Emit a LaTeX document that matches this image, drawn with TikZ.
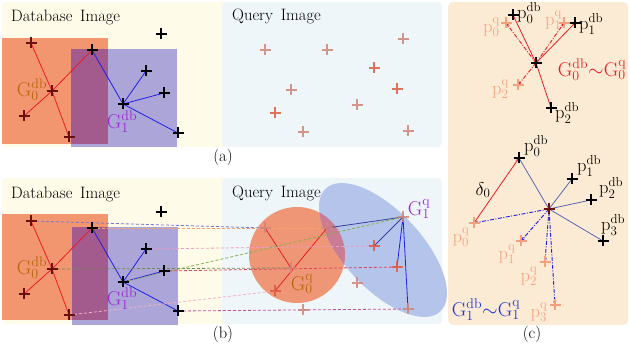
\documentclass[tikz,border=0pt]{standalone}
\usepackage{fix-cm}
\usepackage{fontspec}
\usetikzlibrary{arrows.meta}
\definecolor{dbbg}{HTML}{FEFBE8}
\definecolor{qbg}{HTML}{EEF6FA}
\definecolor{cbg}{HTML}{FCEBD4}
\definecolor{orng}{HTML}{F2966F}
\definecolor{purp}{HTML}{ACA6D8}
\definecolor{ovl}{HTML}{A35A8D}
\definecolor{circ}{HTML}{EE9676}
\definecolor{ell}{HTML}{B5C4EA}
\definecolor{ellovl}{HTML}{C97C93}
\definecolor{crossdr}{HTML}{6B1010}
\definecolor{qcolA}{HTML}{CF8577}
\definecolor{qcolB}{HTML}{DE5A3E}
\definecolor{salmon}{HTML}{F4A07F}
\definecolor{edgered}{HTML}{EC1C24}
\definecolor{edgeblue}{HTML}{1F1FE8}
\definecolor{navy}{HTML}{3A3F9A}
\definecolor{slate}{HTML}{5A66B0}
\definecolor{brownlab}{HTML}{B8650F}
\definecolor{purplab}{HTML}{9C27CF}
\definecolor{bluelab}{HTML}{1C35E0}
\definecolor{mblue}{HTML}{7B74D6}
\definecolor{morange}{HTML}{F3A56A}
\definecolor{mpink}{HTML}{EC9BC2}
\definecolor{mgreen}{HTML}{86B04A}
\definecolor{molive}{HTML}{6E8C52}
\definecolor{mcrim}{HTML}{E04660}
\definecolor{mlpink}{HTML}{F3AFCB}
\definecolor{mmag}{HTML}{C0509A}
\newcommand\plusat[2]{\draw[#1] (#2) +(-5.5,0) -- +(5.5,0) (#2) +(0,-5.5) -- +(0,5.5);}
\begin{document}
\begin{tikzpicture}[x=1pt,y=-1pt,
  lab/.style={font=\fontsize{16.5}{18}\selectfont, inner sep=0pt},
  plab/.style={font=\fontsize{18.5}{20}\selectfont, inner sep=0pt},
  glab/.style={font=\fontsize{20}{22}\selectfont, inner sep=0pt},
  dbp/.style={line width=2pt, black},
  drp/.style={line width=2pt, crossdr},
  qpa/.style={line width=1.5pt, qcolA, opacity=.85},
  qpb/.style={line width=1.5pt, qcolB, opacity=.85},
  cqp/.style={line width=1.6pt, salmon},
  redE/.style={draw=edgered, line width=.8pt},
  blueE/.style={draw=edgeblue, line width=.8pt},
  navyE/.style={draw=navy, line width=.8pt},
  slateE/.style={draw=slate, line width=.8pt},
  matchline/.style={dash pattern=on 3pt off 2pt, line width=.8pt},
  ddot/.style={dash pattern=on 4pt off 1.5pt on 1pt off 1.5pt, line width=.9pt},
  arrq/.style={-{Stealth[length=4pt,width=3pt]}}
]
\useasboundingbox (0,0) rectangle (630,344);

% ---------- backgrounds ----------
\fill[dbbg, rounded corners=4pt] (2,2) rectangle (228,147);
\fill[qbg, rounded corners=4pt] (222,2) rectangle (442,147);
\fill[dbbg, rounded corners=4pt] (2,178) rectangle (228,324);
\fill[qbg, rounded corners=4pt] (222,178) rectangle (442,324);
\fill[cbg, rounded corners=5pt] (448,2) rectangle (628,325);

% ---------- coordinates ----------
\foreach \n/\x/\y in {0/31/43,1/52/91,2/24/116,3/69/137,4/92/50,5/123/104,6/146/71,7/164/93,8/178/133,9/161/34}{
  \coordinate (a\n) at (\x,\y);
  \coordinate (b\n) at (\x,{\y+178});
}
\foreach \n/\x/\y in {0/265/50,1/327/50,2/403/39,3/374/68,4/291/90,5/397/89,6/357/105,7/275/113,8/303/132,9/408/131}{
  \coordinate (q\n) at (\x,\y);
  \coordinate (r\n) at (\x,{\y+178});
}

% ---------- panel (a) ----------
\fill[orng] (2,38) rectangle (108,144);
\fill[purp] (71,49) rectangle (177,147);
\fill[ovl] (71,49) rectangle (108,144);
\draw[redE] (a0) -- (a1) -- (a3);
\draw[redE] (a2) -- (a1) -- (a4);
\draw[blueE] (a4) -- (a5);
\draw[blueE] (a5) -- (a6) (a5) -- (a7) (a5) -- (a8);
\foreach \n in {0,1,2,3}{\plusat{drp}{a\n}}
\foreach \n in {4,5,6,7,8,9}{\plusat{dbp}{a\n}}
\foreach \n in {0,1,2,4,6,8,9}{\plusat{qpa}{q\n}}
\foreach \n in {3,5,7}{\plusat{qpb}{q\n}}
\node[lab, anchor=base west] (tdba) at (11,22) {Database\, Image};
\node[lab, anchor=base west] (tqa) at (232,21) {Query\, Image};
\node[glab, text=brownlab] (g0a) at (32,90) {$\mathrm{G}_0^{\mathrm{db}}$};
\node[glab, text=purplab] (g1a) at (122,122) {$\mathrm{G}_1^{\mathrm{db}}$};
\node[lab] (capa) at (223,157) {(a)};

% ---------- panel (b) ----------
\fill[orng] (2,214) rectangle (108,320);
\fill[purp] (72,227) rectangle (178,325);
\fill[ovl] (72,227) rectangle (108,320);
\fill[circ] (297,255) circle [radius=48pt];
\fill[ell, rotate around={-47:(383,250)}] (383,250) ellipse [x radius=84pt, y radius=39pt];
\begin{scope}
  \clip[rotate around={-47:(383,250)}] (383,250) ellipse [x radius=84pt, y radius=39pt];
  \fill[ellovl] (297,255) circle [radius=48pt];
\end{scope}
\draw[redE] (b0) -- (b1) -- (b3);
\draw[redE] (b2) -- (b1) -- (b4);
\draw[blueE] (b4) -- (b5);
\draw[blueE] (b5) -- (b6) (b5) -- (b7) (b5) -- (b8);
\draw[redE] (r0) -- (r4);
\draw[redE] (r1) -- (r7);
\draw[navyE] (r2) -- (r1) (r2) -- (r3);
\draw[blueE] (r2) -- (r5) (r2) -- (r9);
% matches
\draw[matchline, mblue] (b0) -- (r0);
\draw[matchline, morange] (b4) -- (r1);
\draw[matchline, mpink] (b6) -- (r3);
\draw[matchline, molive] (b1) -- (r4);
\draw[matchline, mcrim] (b7) -- (r5);
\draw[matchline, mgreen] (b5) -- (r2);
\draw[matchline, mlpink] (b3) -- (r7);
\draw[matchline, mmag] (b8) -- (r9);
\foreach \n in {0,1,2,3}{\plusat{drp}{b\n}}
\foreach \n in {4,5,6,7,8,9}{\plusat{dbp}{b\n}}
\foreach \n in {0,1,2,4,6,8,9}{\plusat{qpa}{r\n}}
\foreach \n in {3,5,7}{\plusat{qpb}{r\n}}
\node[lab, anchor=base west] (tdbb) at (11,199) {Database\, Image};
\node[lab, anchor=base west] (tqb) at (232,198) {Query\, Image};
\node[glab, text=brownlab] (g0b) at (32,268) {$\mathrm{G}_0^{\mathrm{db}}$};
\node[glab, text=purplab] (g1b) at (122,299) {$\mathrm{G}_1^{\mathrm{db}}$};
\node[glab, text=brownlab] (g0q) at (302,284) {$\mathrm{G}_0^{\mathrm{q}}$};
\node[glab, text=purplab] (g1q) at (419,209) {$\mathrm{G}_1^{\mathrm{q}}$};
\node[lab] (capb) at (223,334) {(b)};

% ---------- panel (c), top ----------
\coordinate (c0) at (536,63);
\coordinate (c0d) at (513,15);
\coordinate (c1d) at (575,23);
\coordinate (c2d) at (551,108);
\coordinate (c0q) at (506,23);
\coordinate (c1q) at (564,23);
\coordinate (c2q) at (518,85);
\draw[redE] (c0) -- (c0d) (c0) -- (c1d) (c0) -- (c2d);
\draw[redE, ddot, arrq] (c0) -- (c0q);
\draw[redE, ddot, arrq] (c0) -- (c1q);
\draw[redE, ddot, arrq] (c0) -- (c2q);
\foreach \p in {c0q,c1q,c2q}{\plusat{cqp}{\p}}
\foreach \p in {c0,c0d,c1d,c2d}{\plusat{dbp}{\p}}
\node[plab, anchor=west] (l0d) at (517,13) {$\mathrm{p}_0^{\mathrm{db}}$};
\node[plab, anchor=west] (l1d) at (579,24) {$\mathrm{p}_1^{\mathrm{db}}$};
\node[plab, anchor=west] (l2d) at (555,113) {$\mathrm{p}_2^{\mathrm{db}}$};
\node[plab, text=salmon, anchor=east] (l0q) at (500,27) {$\mathrm{p}_0^{\mathrm{q}}$};
\node[plab, text=salmon, anchor=east] (l1q) at (562,20) {$\mathrm{p}_1^{\mathrm{q}}$};
\node[plab, text=salmon, anchor=east] (l2q) at (509,89) {$\mathrm{p}_2^{\mathrm{q}}$};
\node[glab, text=edgered] (m0) at (592,70) {$\mathrm{G}_0^{\mathrm{db}}{\sim}\mathrm{G}_0^{\mathrm{q}}$};

% ---------- panel (c), bottom ----------
\coordinate (e0) at (549,209);
\coordinate (e0d) at (519,158);
\coordinate (e1d) at (572,179);
\coordinate (e2d) at (591,200);
\coordinate (e3d) at (603,241);
\coordinate (e0q) at (474,223);
\coordinate (e1q) at (521,241);
\coordinate (e2q) at (545,262);
\coordinate (e3q) at (555,305);
\draw[slateE] (e0) -- (e0d) (e0) -- (e1d) (e0) -- (e2d) (e0) -- (e3d);
\draw[blueE, ddot, arrq] (e0) -- (e0q);
\draw[blueE, ddot, arrq] (e0) -- (e1q);
\draw[blueE, ddot, arrq] (e0) -- (e2q);
\draw[blueE, ddot, arrq] (e0) -- (e3q);
\draw[redE, arrq] (e0q) -- (e0d);
\foreach \p in {e0q,e1q,e2q,e3q}{\plusat{cqp}{\p}}
\foreach \p in {e0d,e1d,e2d,e3d}{\plusat{dbp}{\p}}
\plusat{drp}{e0}
\node[plab, anchor=west] (k0d) at (524,146) {$\mathrm{p}_0^{\mathrm{db}}$};
\node[plab, anchor=west] (k1d) at (577,166) {$\mathrm{p}_1^{\mathrm{db}}$};
\node[plab, anchor=west] (k2d) at (599,188) {$\mathrm{p}_2^{\mathrm{db}}$};
\node[plab, anchor=west] (k3d) at (601,225) {$\mathrm{p}_3^{\mathrm{db}}$};
\node[plab, text=salmon] (k0q) at (461,237) {$\mathrm{p}_0^{\mathrm{q}}$};
\node[plab, text=salmon] (k1q) at (507,254) {$\mathrm{p}_1^{\mathrm{q}}$};
\node[plab, text=salmon] (k2q) at (529,276) {$\mathrm{p}_2^{\mathrm{q}}$};
\node[plab, text=salmon] (k3q) at (539,312) {$\mathrm{p}_3^{\mathrm{q}}$};
\node[plab] (dl) at (483,190) {$\delta_0$};
\node[glab, text=bluelab] (m1) at (486,310) {$\mathrm{G}_1^{\mathrm{db}}{\sim}\mathrm{G}_1^{\mathrm{q}}$};
\node[lab] (capc) at (532,334) {(c)};
\end{tikzpicture}
\end{document}
